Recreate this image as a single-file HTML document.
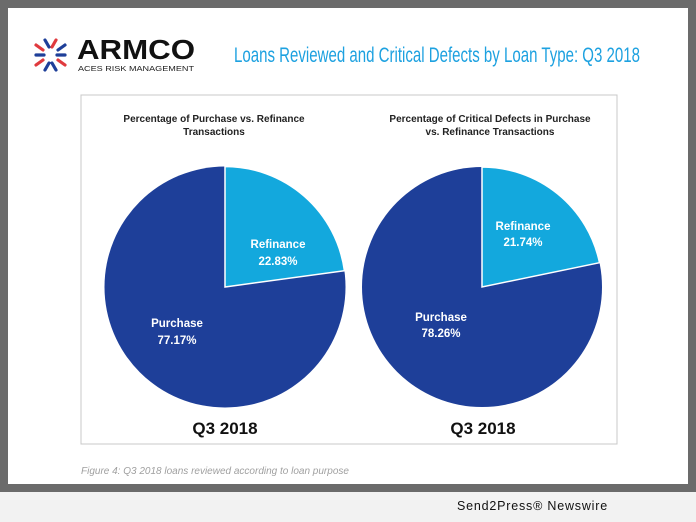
<!DOCTYPE html>
<html><head><style>
body{margin:0;width:696px;height:522px;background:#f2f2f2;font-family:"Liberation Sans",sans-serif;position:relative;overflow:hidden}
</style></head><body>
<svg width="696" height="522" style="position:absolute;left:0;top:0">
<rect x="0" y="0" width="696" height="492" fill="#6b6b6b"/>
<rect x="8" y="8" width="680" height="476" fill="#ffffff"/>
<g stroke-width="3.2" stroke-linecap="round">
<line x1="45" y1="40" x2="49" y2="47" stroke="#1e3f99"/><line x1="56" y1="40" x2="52" y2="47" stroke="#e03a3e"/>
<line x1="65" y1="45" x2="58" y2="50" stroke="#1e3f99"/><line x1="36" y1="45" x2="43" y2="50" stroke="#e03a3e"/>
<line x1="36" y1="55" x2="44" y2="55" stroke="#1e3f99"/><line x1="57" y1="55" x2="65" y2="55" stroke="#1e3f99"/>
<line x1="36" y1="65" x2="43" y2="60" stroke="#e03a3e"/><line x1="65" y1="65" x2="58" y2="60" stroke="#e03a3e"/>
<line x1="45" y1="70" x2="49" y2="63" stroke="#1e3f99"/><line x1="56" y1="70" x2="52" y2="63" stroke="#1e3f99"/>
</g>
<text x="77" y="59" font-size="28" font-weight="bold" fill="#111" textLength="118" lengthAdjust="spacingAndGlyphs">ARMCO</text>
<text x="78" y="71" font-size="7" fill="#222" textLength="116" lengthAdjust="spacingAndGlyphs">ACES RISK MANAGEMENT</text>
<text x="234" y="62" font-size="21" fill="#1da1e0" textLength="406" lengthAdjust="spacingAndGlyphs">Loans Reviewed and Critical Defects by Loan Type: Q3 2018</text>
<rect x="81" y="95" width="536" height="349" fill="#fff" stroke="#c8c8c8" stroke-width="1"/>
<g font-size="10" font-weight="bold" fill="#222" text-anchor="middle">
<text x="214" y="122">Percentage of Purchase vs. Refinance</text>
<text x="214" y="135">Transactions</text>
<text x="490" y="122">Percentage of Critical Defects in Purchase</text>
<text x="490" y="135">vs. Refinance Transactions</text>
</g>
<circle cx="225" cy="287" r="120.5" fill="#1e3f99"/>
<path d="M225 287 L225 166.5 A120.5 120.5 0 0 1 344.4 270.7 Z" fill="#13a8dd" stroke="#fff" stroke-width="1.5"/>
<circle cx="482" cy="287" r="120" fill="#1e3f99"/>
<path d="M482 287 L482 167 A120 120 0 0 1 599.5 262.7 Z" fill="#13a8dd" stroke="#fff" stroke-width="1.5"/>
<g font-size="11.5" font-weight="bold" fill="#fff" text-anchor="middle">
<text x="278" y="248">Refinance</text><text x="278" y="265">22.83%</text>
<text x="177" y="327">Purchase</text><text x="177" y="344">77.17%</text>
<text x="523" y="230">Refinance</text><text x="523" y="246">21.74%</text>
<text x="441" y="321">Purchase</text><text x="441" y="337">78.26%</text>
</g>
<g font-size="17" font-weight="bold" fill="#111" text-anchor="middle">
<text x="225" y="434">Q3 2018</text><text x="483" y="434">Q3 2018</text>
</g>
<text x="81" y="474" font-size="10" font-style="italic" fill="#a0a0a0">Figure 4: Q3 2018 loans reviewed according to loan purpose</text>
<text x="457" y="510" font-size="12.5" fill="#111" letter-spacing="0.8">Send2Press® Newswire</text>
</svg>
</body></html>
